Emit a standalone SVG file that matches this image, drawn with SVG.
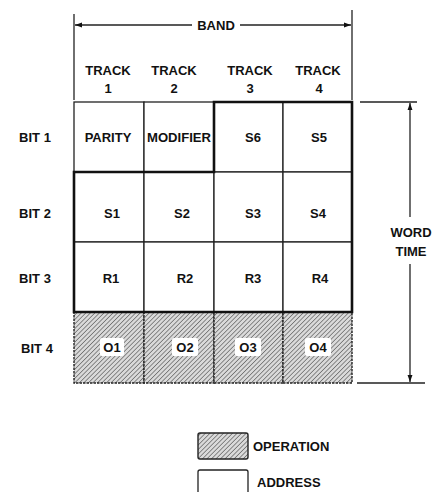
<svg xmlns="http://www.w3.org/2000/svg" width="433" height="492" viewBox="0 0 433 492">
<style>
text{font-family:"Liberation Sans",Arial,sans-serif;font-weight:bold;font-size:13px;fill:#111;text-anchor:middle;dominant-baseline:central}
.cell{fill:#fff;stroke:#222;stroke-width:1.3}
.op{fill:url(#hatch);stroke:#222;stroke-width:1.4;stroke-dasharray:2.5 1}
.lbl{fill:#fff;stroke:none}
.dim{stroke:#222;stroke-width:1.3;fill:none}
.thick{stroke:#111;stroke-width:2.6;fill:none}
</style>
<defs>
<pattern id="hatch" patternUnits="userSpaceOnUse" width="3.2" height="3.2" patternTransform="rotate(45)">
<rect width="3.2" height="3.2" fill="#dadada"/>
<line x1="0" y1="0" x2="0" y2="3.2" stroke="#5a5a5a" stroke-width="1.3"/>
</pattern>
<marker id="arr" viewBox="0 0 10 10" refX="10" refY="5" markerWidth="7" markerHeight="7" orient="auto-start-reverse" markerUnits="userSpaceOnUse">
<path d="M0,1.5 L10,5 L0,8.5 z" fill="#111"/>
</marker>
</defs>

<g id="header">
<text x="108" y="70">TRACK</text>
<text x="108" y="88">1</text>
<text x="174" y="70">TRACK</text>
<text x="174" y="88">2</text>
<text x="250" y="70">TRACK</text>
<text x="250" y="88">3</text>
<text x="318" y="70">TRACK</text>
<text x="319" y="88">4</text>
<text x="216" y="25">BAND</text>
</g>

<g id="row-labels">
<text x="35" y="137">BIT 1</text>
<text x="35" y="213">BIT 2</text>
<text x="35" y="278">BIT 3</text>
<text x="37" y="348">BIT 4</text>
</g>

<g id="cell-parity"><rect class="cell" x="74" y="102" width="70" height="70"/><text x="108" y="137">PARITY</text></g>
<g id="cell-modifier"><rect class="cell" x="144" y="102" width="70" height="70"/><text x="179" y="137" textLength="64" lengthAdjust="spacingAndGlyphs">MODIFIER</text></g>
<g id="cell-s6"><rect class="cell" x="214" y="102" width="69" height="70"/><text x="253" y="137">S6</text></g>
<g id="cell-s5"><rect class="cell" x="283" y="102" width="69" height="70"/><text x="319" y="137">S5</text></g>

<g id="cell-s1"><rect class="cell" x="74" y="172" width="70" height="70"/><text x="112" y="213">S1</text></g>
<g id="cell-s2"><rect class="cell" x="144" y="172" width="70" height="70"/><text x="182" y="213">S2</text></g>
<g id="cell-s3"><rect class="cell" x="214" y="172" width="69" height="70"/><text x="253" y="213">S3</text></g>
<g id="cell-s4"><rect class="cell" x="283" y="172" width="69" height="70"/><text x="318" y="213">S4</text></g>

<g id="cell-r1"><rect class="cell" x="74" y="242" width="70" height="70"/><text x="111" y="278">R1</text></g>
<g id="cell-r2"><rect class="cell" x="144" y="242" width="70" height="70"/><text x="185" y="278">R2</text></g>
<g id="cell-r3"><rect class="cell" x="214" y="242" width="69" height="70"/><text x="253" y="278">R3</text></g>
<g id="cell-r4"><rect class="cell" x="283" y="242" width="69" height="70"/><text x="320" y="278">R4</text></g>

<g id="cell-o1"><rect class="op" x="74" y="312" width="70" height="71"/><rect class="lbl" x="100" y="338" width="24" height="18" rx="2"/><text x="112" y="347">O1</text></g>
<g id="cell-o2"><rect class="op" x="144" y="312" width="70" height="71"/><rect class="lbl" x="172" y="338" width="26" height="18" rx="2"/><text x="185" y="347">O2</text></g>
<g id="cell-o3"><rect class="op" x="214" y="312" width="69" height="71"/><rect class="lbl" x="235" y="338" width="26" height="18" rx="2"/><text x="248" y="347">O3</text></g>
<g id="cell-o4"><rect class="op" x="283" y="312" width="69" height="71"/><rect class="lbl" x="305" y="338" width="26" height="18" rx="2"/><text x="318" y="347">O4</text></g>

<g id="address-outline">
<path class="thick" d="M74,172 L214,172 L214,102 L352,102 L352,312 L74,312 Z"/>
</g>

<g id="connectors">
<line class="dim" x1="74" y1="14" x2="74" y2="100"/>
<line class="dim" x1="352" y1="10" x2="352" y2="100"/>
<line class="dim" x1="192" y1="25" x2="75" y2="25" marker-end="url(#arr)"/>
<line class="dim" x1="240" y1="25" x2="351" y2="25" marker-end="url(#arr)"/>
<line class="dim" x1="360" y1="102" x2="417" y2="102"/>
<line class="dim" x1="357" y1="383" x2="425" y2="383"/>
<line class="dim" x1="410" y1="217" x2="410" y2="103" marker-end="url(#arr)"/>
<line class="dim" x1="410" y1="264" x2="410" y2="382" marker-end="url(#arr)"/>
</g>

<g id="word-time">
<text x="411" y="232">WORD</text>
<text x="411" y="251">TIME</text>
</g>

<g id="legend-operation">
<rect class="op" x="198" y="433" width="50" height="26" rx="2" style="stroke-dasharray:none"/>
<text x="253" y="446" style="text-anchor:start">OPERATION</text>
</g>
<g id="legend-address">
<rect class="cell" x="198" y="470" width="50" height="30" rx="2"/>
<text x="257" y="482" style="text-anchor:start">ADDRESS</text>
</g>
</svg>
